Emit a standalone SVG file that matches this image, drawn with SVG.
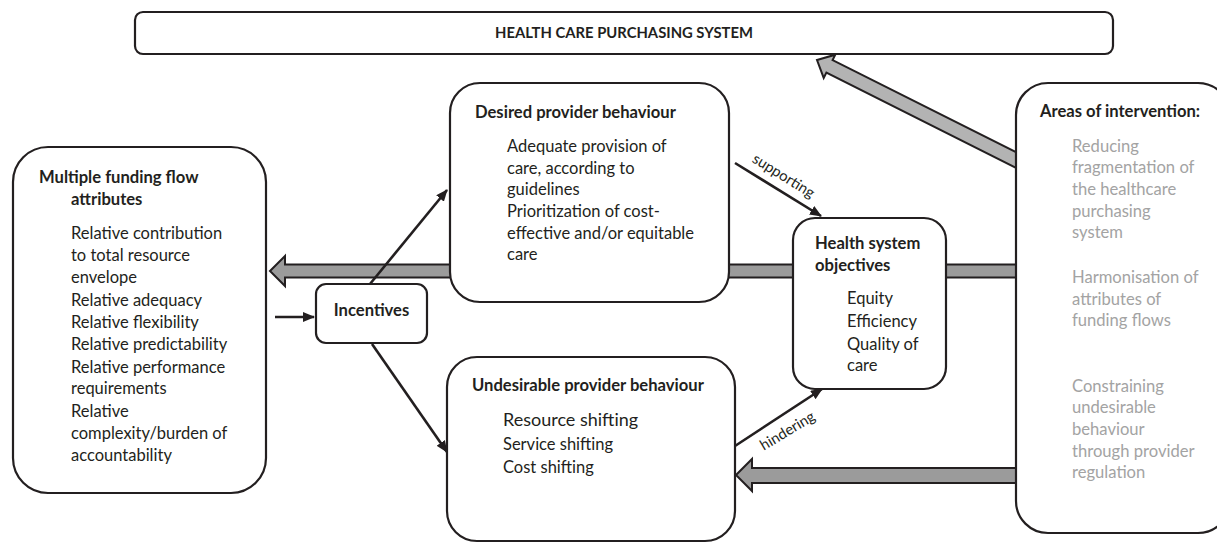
<svg xmlns="http://www.w3.org/2000/svg" width="1217" height="544" viewBox="0 0 1217 544">
<style>
.box{fill:#fff;stroke:#231f20;stroke-width:2.2}
.t{font-family:Lato,"Open Sans","Liberation Sans",sans-serif;fill:#231f20}
.b{font-weight:bold;font-size:16.6px}
.r{font-size:16.5px}
.g{font-size:16.6px;fill:#a3a3a3}
.lbl{font-size:14.8px}
.gr{stroke:#231f20;stroke-width:2;stroke-linejoin:miter}
.ln{stroke:#231f20;stroke-width:2.6;fill:none;marker-end:url(#ah)}
</style>
<defs>
<marker id="ah" markerUnits="userSpaceOnUse" markerWidth="12" markerHeight="10" refX="11" refY="5" orient="auto">
<path d="M0,0 L12,5 L0,10 Z" fill="#231f20"/>
</marker>
</defs>
<g id="connectors">
<polygon class="gr" fill="#9b9b9b" points="270,271 285,256 285,264.5 1020,264.5 1020,277.5 285,277.5 285,286"/>
<polygon class="gr" fill="#9b9b9b" points="736,475 752,459 752,468 1020,468 1020,483 752,483 752,491"/>
<polygon class="gr" fill="#b3b3b3" points="817,60 835.3,54.7 832.6,60.1 1033.1,160.8 1026.9,173.4 826.4,72.5 823.7,77.9"/>
<line class="ln" x1="275" y1="317" x2="314" y2="317"/>
<line class="ln" x1="370" y1="284" x2="447" y2="190"/>
<line class="ln" x1="372" y1="344" x2="447" y2="452"/>
<line class="ln" x1="735" y1="163" x2="821" y2="216"/>
<line class="ln" x1="735" y1="446" x2="822" y2="389"/>
<text class="t lbl" text-anchor="middle" transform="translate(781,180) rotate(32)">supporting</text>
<text class="t lbl" text-anchor="middle" transform="translate(790,435) rotate(-31)">hindering</text>
</g>
<g id="purchasing-system">
<rect class="box" x="135" y="12" width="978" height="42" rx="8"/>
<text class="t" x="624" y="38" text-anchor="middle" font-weight="bold" font-size="14.8px">HEALTH CARE PURCHASING SYSTEM</text>
</g>
<g id="funding-flow">
<rect class="box" x="13" y="147" width="253" height="346" rx="35"/>
<text class="t b" x="39" y="183">Multiple funding flow</text>
<text class="t b" x="71" y="205">attributes</text>
<text class="t r">
<tspan x="71" y="239">Relative contribution</tspan>
<tspan x="71" y="261">to total resource</tspan>
<tspan x="71" y="283">envelope</tspan>
<tspan x="71" y="306">Relative adequacy</tspan>
<tspan x="71" y="328">Relative flexibility</tspan>
<tspan x="71" y="350">Relative predictability</tspan>
<tspan x="71" y="373">Relative performance</tspan>
<tspan x="71" y="394">requirements</tspan>
<tspan x="71" y="417">Relative</tspan>
<tspan x="71" y="439">complexity/burden of</tspan>
<tspan x="71" y="461">accountability</tspan>
</text>
</g>
<g id="incentives">
<rect class="box" x="316" y="284" width="111" height="59" rx="10"/>
<text class="t b" x="371.5" y="316" text-anchor="middle">Incentives</text>
</g>
<g id="desired">
<rect class="box" x="450" y="83" width="279" height="219" rx="30"/>
<text class="t b" x="475" y="118">Desired provider behaviour</text>
<text class="t r">
<tspan x="507" y="152">Adequate provision of</tspan>
<tspan x="507" y="174">care, according to</tspan>
<tspan x="507" y="195">guidelines</tspan>
<tspan x="507" y="217">Prioritization of cost-</tspan>
<tspan x="507" y="239">effective and/or equitable</tspan>
<tspan x="507" y="260">care</tspan>
</text>
</g>
<g id="undesirable">
<rect class="box" x="447" y="357" width="288" height="184" rx="30"/>
<text class="t b" x="472" y="391">Undesirable provider behaviour</text>
<text class="t" x="503" y="426" font-size="18px">Resource shifting</text>
<text class="t r" x="503" y="450">Service shifting</text>
<text class="t r" x="503" y="473">Cost shifting</text>
</g>
<g id="objectives">
<rect class="box" x="793" y="218" width="153" height="171" rx="22"/>
<text class="t b" x="815" y="249">Health system</text>
<text class="t b" x="815" y="271">objectives</text>
<text class="t r">
<tspan x="847" y="304">Equity</tspan>
<tspan x="847" y="327">Efficiency</tspan>
<tspan x="847" y="350">Quality of</tspan>
<tspan x="847" y="371">care</tspan>
</text>
</g>
<g id="intervention">
<rect class="box" x="1016" y="83" width="214" height="450" rx="32"/>
<text class="t b" x="1040" y="117">Areas of intervention:</text>
<text class="t g">
<tspan x="1072" y="152">Reducing</tspan>
<tspan x="1072" y="173">fragmentation of</tspan>
<tspan x="1072" y="195">the healthcare</tspan>
<tspan x="1072" y="217">purchasing</tspan>
<tspan x="1072" y="238">system</tspan>
<tspan x="1072" y="283">Harmonisation of</tspan>
<tspan x="1072" y="305">attributes of</tspan>
<tspan x="1072" y="326">funding flows</tspan>
<tspan x="1072" y="392">Constraining</tspan>
<tspan x="1072" y="413">undesirable</tspan>
<tspan x="1072" y="435">behaviour</tspan>
<tspan x="1072" y="457">through provider</tspan>
<tspan x="1072" y="478">regulation</tspan>
</text>
</g>
</svg>
